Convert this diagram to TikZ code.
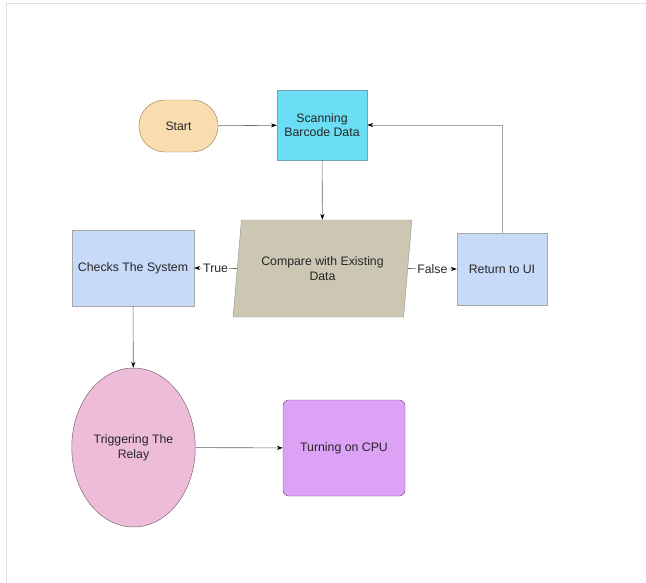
\documentclass[tikz,border=0pt]{standalone}
\usepackage{fontspec}
\setmainfont{Liberation Sans}
\usepackage{tikz}
\usetikzlibrary{shapes.geometric,shapes.misc,arrows.meta}
\definecolor{startfill}{HTML}{FADDAE}
\definecolor{scanfill}{HTML}{6BDDF4}
\definecolor{cmpfill}{HTML}{CBC7B3}
\definecolor{boxfill}{HTML}{C7DAF7}
\definecolor{relayfill}{HTML}{ECBCD8}
\definecolor{cpufill}{HTML}{DCA2F5}

\begin{document}
\begin{tikzpicture}[x=0.03cm,y=-0.03cm,
  every node/.style={font=\fontsize{10.5}{12.5}\selectfont,text=black!85,align=center},
  flowbox/.style={draw=gray!70,fill=boxfill,minimum width=3.66cm,minimum height=2.28cm},
  flowline/.style={draw=black!60,line width=0.5pt,-{Stealth[length=5pt,width=3.5pt,black]}},
  flowlabel/.style={fill=white,inner sep=1pt}]
\useasboundingbox (0,0) rectangle (646,582);
\draw[gray!25] (6,582) -- (6,3) -- (646,3);
\node[rounded rectangle,draw=brown!50!gray,fill=startfill,minimum width=2.61cm,minimum height=1.56cm] (start) at (178.5,126) {Start};
\node[draw=cyan!40!gray,fill=scanfill,minimum width=2.7cm,minimum height=2.1cm] (scan) at (322,125) {Scanning\\Barcode Data};
\node[trapezium,trapezium left angle=78,trapezium right angle=102,trapezium stretches=true,draw=gray!80,fill=cmpfill,minimum width=5.37cm,minimum height=2.91cm] (cmp) at (322.5,268.5) {Compare with Existing\\Data};
\node[flowbox] (check) at (133,268) {Checks The System};
\node[flowbox,minimum width=2.7cm,minimum height=2.16cm] (ret) at (502,269) {Return to UI};
\node[ellipse,draw=gray!70!magenta!60!black,fill=relayfill,minimum width=3.69cm,minimum height=4.77cm] (relay) at (133.5,447.5) {Triggering The\\Relay};
\node[draw=violet!40!gray,fill=cpufill,rounded corners=5pt,minimum width=3.66cm,minimum height=2.88cm] (cpu) at (344,448) {Turning on CPU};
\draw[flowline] (start) -- (scan);
\draw[flowline] (scan) -- (cmp);
\draw[flowline] (cmp.west) -- node[flowlabel] {True} (check.east);
\draw[flowline] (cmp.east) -- node[flowlabel] {False} (ret.west);
\draw[flowline,draw=black!35] (ret.north) |- (scan.east);
\draw[flowline] (check) -- (relay);
\draw[flowline] (relay) -- (cpu);
\end{tikzpicture}
\end{document}
